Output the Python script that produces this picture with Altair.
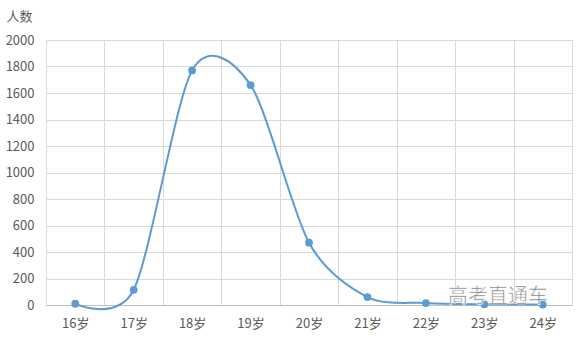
import altair as alt
import pandas as pd

ages = ["16岁", "17岁", "18岁", "19岁", "20岁", "21岁", "22岁", "23岁", "24岁"]
counts = [10, 115, 1770, 1660, 470, 60, 15, 5, 3]

df = pd.DataFrame({"age": ages, "count": counts})
FONT = "Noto Sans CJK SC"
COLOR = "#5b9bd5"

x = alt.X("age:N", sort=ages, title=None,
          scale=alt.Scale(paddingInner=0, paddingOuter=0),
          axis=alt.Axis(labelAngle=0, tickBand="extent", grid=True, gridColor="#d9d9d9",
                        ticks=False, domainColor="#bfbfbf", labelColor="#595959",
                        labelFont=FONT, labelFontSize=13, labelPadding=12))
y = alt.Y("count:Q", title="人数",
          scale=alt.Scale(domain=[0, 2000], nice=False),
          axis=alt.Axis(values=list(range(0, 2001, 200)), format="d", grid=True,
                        gridColor="#d9d9d9",
                        domain=False, ticks=False, labelColor="#595959", labelFont=FONT,
                        labelFontSize=13, labelPadding=12,
                        titleAngle=0, titleAlign="left", titleBaseline="middle",
                        titleX=-40, titleY=-24, titleFont=FONT, titleFontSize=13,
                        titleFontWeight="normal", titleColor="#595959"))

base = alt.Chart(df)
line = base.mark_line(interpolate="cardinal", tension=0.15, color=COLOR,
                      strokeWidth=2).encode(x=x, y=y)
pts = base.mark_circle(color=COLOR, size=60, opacity=1).encode(x=x, y=y)
wm = alt.Chart(pd.DataFrame({"t": ["高考直通车"]})).mark_text(
    font=FONT, fontSize=20, color="#7a7a7a", align="left", baseline="middle",
    stroke="white", strokeWidth=0.6
).encode(text="t:N", x=alt.value(402), y=alt.value(257))

chart = alt.layer(line, pts, wm).properties(
    width=526, height=265,
    autosize=alt.AutoSizeParams(type="none"),
    padding={"left": 46, "top": 40, "right": 13, "bottom": 36},
).configure_view(stroke=None).configure(background="white")

chart.save("out.html", embed_options={"renderer": "svg", "actions": False})
